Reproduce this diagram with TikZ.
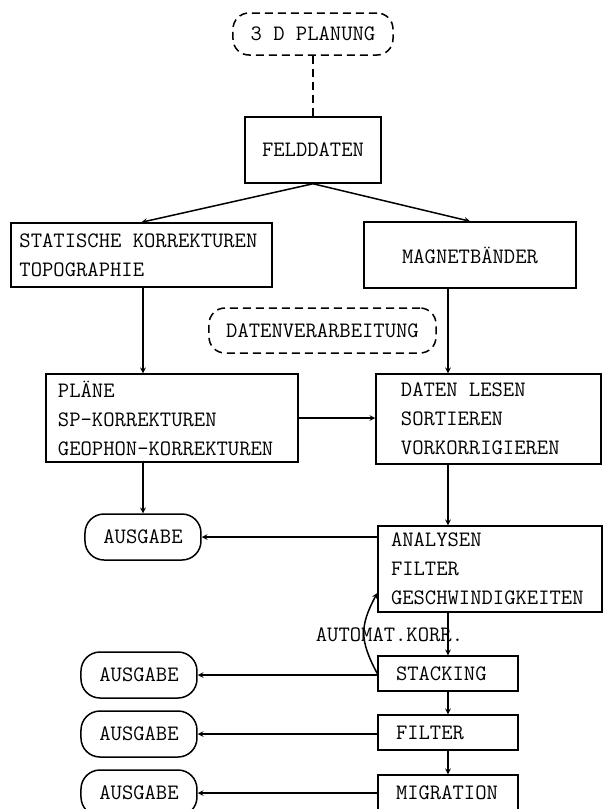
\documentclass[tikz,border=0pt]{standalone}
\usepackage{fontspec}

\begin{document}
\begin{tikzpicture}[>=stealth, node distance=100pt, line width=1.5pt,
    every node/.style={font=\ttfamily\fontsize{22}{29}\selectfont},
    every edge/.style={draw, line width=1.5pt},
    kasten/.style={rectangle, draw, inner ysep=2pt, execute at begin node={\spaceskip=0pt\relax}},
    ausgabe/.style={rectangle, draw, rounded corners=19pt, minimum width=116, minimum height=46},
    planung/.style={rectangle, draw, rounded corners=16pt, dash pattern=on 8pt off 5pt},
    ]
                    \useasboundingbox (-313pt,34pt) rectangle (294pt,-775pt);

                    \node [planung, minimum width=160, minimum height=42](1) []{3 D PLANUNG};
                    \node [kasten, minimum width=136, minimum height=66](2) [below of = 1, yshift = -16]{FELDDATEN};

                    \node [kasten, minimum width=261, minimum height=64, text width=244](3) [below of = 2, xshift = -171.5, yshift = -5]{STATISCHE KORREKTUREN\\TOPOGRAPHIE};
                    \node [kasten, minimum width=212, minimum height=66](4) [right of = 3, xshift = 228.5]{MAGNETBÄNDER};
                    \node [planung, minimum width=227, minimum height=45](5) [below of = 2, xshift = 9.5, yshift = -80.5]{DATENVERARBEITUNG};

                    \node [kasten, minimum width=252, minimum height=88, text width=228](6) [below of = 3, xshift = 30.5, yshift = -63]{PLÄNE\\SP-KORREKTUREN\\GEOPHON-KORREKTUREN};
                    \node [kasten, minimum width=225, minimum height=90, text width=175](7) [right of = 6, xshift = 216.5, yshift = -1]{DATEN LESEN\\SORTIEREN\\VORKORRIGIEREN};

                    \node [ausgabe](8) [below of = 6, xshift = -29, yshift = -19]{AUSGABE};
                    \node [kasten, minimum width=224, minimum height=86, text width=198](9) [below of = 7, xshift = 1.5, yshift = -50]{ANALYSEN\\FILTER\\GESCHWINDIGKEITEN};

                    \node [kasten, minimum width=140, minimum height=35, text width=104](10) [below of = 9, xshift = -42, yshift = -4.5]{STACKING};
                    \node [ausgabe](11) [left of = 10, xshift = -209, yshift = -1.5]{AUSGABE};
                    \node [kasten, minimum width=140, minimum height=35, text width=104](12) [below of = 10, yshift = 41]{FILTER};
                    \node [ausgabe](13) [left of = 12, xshift = -209, yshift = -1.5]{AUSGABE};
                    \node [kasten, minimum width=140, minimum height=35, text width=104](14) [below of = 12, yshift = 40]{MIGRATION};
                    \node [ausgabe](15) [left of = 14, xshift = -209, yshift = -0.5]{AUSGABE};

                    \node [](16) [above of = 10, xshift = -58.5, yshift = -61.5]{AUTOMAT.KORR.};

                    \path[->]
                        (1) edge[-, dash pattern=on 8pt off 5pt] (2)
                        (2.south) edge (3.north)
                        (2.south) edge (4.north)

                        (3.south -| 8) edge (8 |- 6.north)
                        (4.south -| 10) edge (7.north -| 10)
                        (6) edge (6 -| 7.west)

                        (6.south -| 8) edge (8)
                        (7.south -| 10) edge (9.north -| 10)
                        (9.west |- 8) edge (8)

                        (9.south -| 10) edge (10)
                        (10.west) edge[out=118, in=242, looseness=1.2] ([yshift=-24pt]9.west)
                        (10) edge (12)
                        (12) edge (14)

                        (10.west |- 11) edge (11)
                        (12.west |- 13) edge (13)
                        (14.west |- 15) edge (15)
                    ;

                \end{tikzpicture}
\end{document}
